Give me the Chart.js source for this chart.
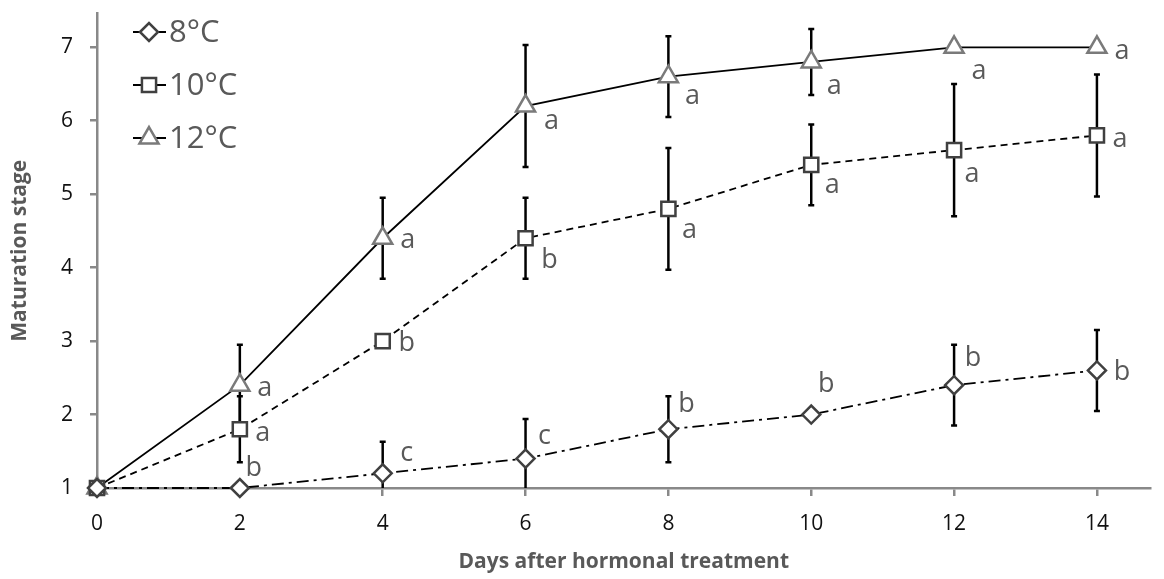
<!DOCTYPE html>
<html>
<head>
<meta charset="utf-8">
<script src="https://cdn.jsdelivr.net/npm/chart.js@4.4.0/dist/chart.umd.min.js"></script>
<style>
  html, body { margin: 0; padding: 0; background: #fff; }
</style>
</head>
<body>
<canvas id="myChart" width="1164" height="579"></canvas>
<script>
// data
const days = [0, 2, 4, 6, 8, 10, 12, 14];
const stage8 = [1, 1, 1.2, 1.4, 1.8, 2.0, 2.4, 2.6];
const stage10 = [1, 1.8, 3.0, 4.4, 4.8, 5.4, 5.6, 5.8];
const stage12 = [1, 2.4, 4.4, 6.2, 6.6, 6.8, 7.0, 7.0];
const err8 = [0, 0, 0.43, 0.54, 0.45, 0, 0.55, 0.55];
const err10 = [0, 0.45, 0, 0.55, 0.83, 0.55, 0.9, 0.83];
const err12 = [0, 0.55, 0.55, 0.83, 0.55, 0.45, 0, 0];
const letters8 = ['', 'b', 'c', 'c', 'b', 'b', 'b', 'b'];
const letters10 = ['', 'a', 'b', 'b', 'a', 'a', 'a', 'a'];
const letters12 = ['', 'a', 'a', 'a', 'a', 'a', 'a', 'a'];
const seriesNames = ['8°C', '10°C', '12°C'];
const xTicks = [0, 2, 4, 6, 8, 10, 12, 14];
const yTicks = [1, 2, 3, 4, 5, 6, 7];

// pixel nudges for the significance letters
const nudge8 = [[0, 0], [14, -20], [24, -20], [19, -22], [18, -25], [15, -30], [19, -27], [25, 2]];
const nudge10 = [[0, 0], [23, 4], [24, 2], [24, 22], [21, 21], [21, 21], [18, 24], [23, 4]];
const nudge12 = [[0, 0], [25, 3], [25, 2], [26, 15], [24, 20], [23, 24], [25, 24], [25, 4]];

const toPoints = vals => days.map((d, i) => ({x: d, y: vals[i]}));

const errorBars = {
  id: 'errorBars',
  beforeDatasetsDraw(chart) {
    const {ctx, chartArea, scales: {x, y}} = chart;
    ctx.save();
    ctx.beginPath();
    ctx.rect(chartArea.left - 20, chartArea.top, chartArea.right - chartArea.left + 40, chartArea.bottom - chartArea.top);
    ctx.clip();
    ctx.strokeStyle = '#000';
    ctx.lineWidth = 2.5;
    chart.data.datasets.forEach(ds => {
      ds.errors.forEach((e, i) => {
        if (!e) return;
        const px = x.getPixelForValue(ds.data[i].x);
        const top = y.getPixelForValue(ds.data[i].y + e);
        const bot = y.getPixelForValue(ds.data[i].y - e);
        ctx.beginPath();
        ctx.moveTo(px, top); ctx.lineTo(px, bot);
        ctx.moveTo(px - 3, top); ctx.lineTo(px + 3, top);
        ctx.moveTo(px - 3, bot); ctx.lineTo(px + 3, bot);
        ctx.stroke();
      });
    });
    ctx.restore();
  }
};

const letterMarks = {
  id: 'letterMarks',
  afterDatasetsDraw(chart) {
    const {ctx, scales: {x, y}} = chart;
    ctx.save();
    ctx.fillStyle = '#595959';
    ctx.font = '27px "Open Sans"';
    ctx.textAlign = 'center';
    ctx.textBaseline = 'middle';
    chart.data.datasets.forEach(ds => {
      ds.letters.forEach((t, i) => {
        if (!t) return;
        const px = x.getPixelForValue(ds.data[i].x) + ds.nudge[i][0];
        const py = y.getPixelForValue(ds.data[i].y) + ds.nudge[i][1];
        ctx.fillText(t, px, py);
      });
    });
    ctx.restore();
  }
};

const legendBox = {
  id: 'legendBox',
  afterDraw(chart) {
    const ctx = chart.ctx;
    chart.data.datasets.forEach((ds, k) => {
      const cy = 32 + k * 53;
      ctx.save();
      ctx.strokeStyle = '#000';
      ctx.lineWidth = 1.8;
      ctx.beginPath();
      ctx.moveTo(133, cy); ctx.lineTo(166, cy);
      ctx.stroke();
      ctx.fillStyle = '#fff';
      ctx.strokeStyle = ds.pointBorderColor;
      ctx.lineWidth = ds.pointBorderWidth;
      Chart.helpers.drawPoint(ctx, {pointStyle: ds.pointStyle, radius: ds.pointRadius, rotation: 0, borderWidth: ds.pointBorderWidth}, 149, cy);
      ctx.fillStyle = '#595959';
      ctx.font = '31px "Open Sans"';
      ctx.textAlign = 'left';
      ctx.textBaseline = 'middle';
      ctx.fillText(ds.label, 169, cy + 1);
      ctx.restore();
    });
  }
};

const axisGrey = '#898989';
const ctx = document.getElementById('myChart');
new Chart(ctx, {
  type: 'line',
  data: {
    datasets: [{
      label: seriesNames[0],
      data: toPoints(stage8),
      errors: err8, letters: letters8, nudge: nudge8,
      borderColor: '#000', borderWidth: 1.8, borderDash: [12, 5, 3, 5],
      pointStyle: 'rectRot', pointRadius: 9, pointBorderWidth: 2.5,
      pointBorderColor: '#404040', pointBackgroundColor: '#fff',
      clip: false
    }, {
      label: seriesNames[1],
      data: toPoints(stage10),
      errors: err10, letters: letters10, nudge: nudge10,
      borderColor: '#000', borderWidth: 1.8, borderDash: [7, 5],
      pointStyle: 'rect', pointRadius: 10, pointBorderWidth: 2.5,
      pointBorderColor: '#404040', pointBackgroundColor: '#fff',
      clip: false
    }, {
      label: seriesNames[2],
      data: toPoints(stage12),
      errors: err12, letters: letters12, nudge: nudge12,
      borderColor: '#000', borderWidth: 1.8,
      pointStyle: 'triangle', pointRadius: 11, pointBorderWidth: 2.5,
      pointBorderColor: '#7a7a7a', pointBackgroundColor: '#fff',
      clip: false
    }]
  },
  options: {
    responsive: false,
    animation: false,
    devicePixelRatio: 1,
    layout: {padding: {top: 10, right: 3, left: 0, bottom: 0}},
    plugins: {legend: {display: false}, tooltip: {enabled: false}},
    scales: {
      x: {
        type: 'linear', min: 0, max: 14.75,
        afterBuildTicks: s => { s.ticks = xTicks.map(v => ({value: v})); },
        afterFit: s => { s.height = 91; },
        border: {display: true, color: axisGrey, width: 2.5},
        grid: {display: true, drawOnChartArea: false, drawTicks: true, tickLength: 8, color: axisGrey, lineWidth: 2.5},
        ticks: {font: {family: 'Open Sans', size: 21}, color: '#111', padding: 15, maxRotation: 0},
        title: {display: true, text: 'Days after hormonal treatment', color: '#595959',
          font: {family: 'Open Sans', size: 21, weight: 'bold'}, padding: {top: 0, bottom: 4}}
      },
      y: {
        min: 1, max: 7.46,
        afterBuildTicks: s => { s.ticks = yTicks.map(v => ({value: v})); },
        afterFit: s => { s.width = 97; s.paddingTop = 0; s.paddingBottom = 0; },
        border: {display: true, color: axisGrey, width: 2.5},
        grid: {display: true, drawOnChartArea: false, drawTicks: true, tickLength: 7, color: axisGrey, lineWidth: 2.5},
        ticks: {font: {family: 'Open Sans', size: 21}, color: '#111', padding: 17},
        title: {display: true, text: 'Maturation stage', color: '#595959',
          font: {family: 'Open Sans', size: 21, weight: 'bold'}, padding: {top: 7, bottom: 0}}
      }
    }
  },
  plugins: [errorBars, letterMarks, legendBox]
});
</script>
</body>
</html>
